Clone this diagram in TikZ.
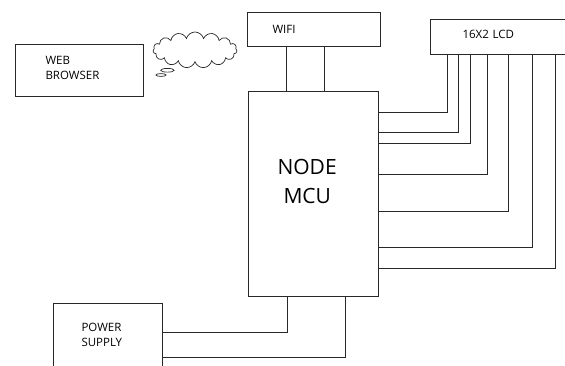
\documentclass[tikz,border=0pt]{standalone}
\usepackage{fontspec}
\setmainfont{Open Sans}
\usepackage{tikz}
\usetikzlibrary{shapes.callouts,shapes.symbols}
\definecolor{wireblack}{RGB}{40,40,40}
\tikzset{
  blockbox/.style={draw=wireblack, line width=1pt, anchor=north west, inner sep=0pt, font=\fontsize{11.5}{15}\selectfont, align=left},
  wire/.style={draw=wireblack, line width=1pt},
  thought/.style={cloud callout, draw=wireblack, line width=0.7pt, cloud puffs=15, aspect=2.4, inner sep=0pt, minimum width=84pt, minimum height=36pt, callout pointer segments=2, callout pointer start size=.2 of callout, callout pointer end size=.12 of callout},
}
\begin{document}
\begin{tikzpicture}[x=1pt,y=-1pt]
  \path[use as bounding box, clip] (0,0) rectangle (565,366);
  % blocks
  \node[blockbox, minimum width=128pt, minimum height=52pt, text width=68pt, text depth=20pt] (web) at (15,44) {WEB\\BROWSER};
  \node[blockbox, minimum width=133pt, minimum height=34pt, text width=83pt, text depth=1pt] (wifi) at (247,12) {WIFI};
  \node[blockbox, minimum width=140pt, minimum height=35pt, text width=76pt, text depth=5pt] (lcd) at (430,19) {16X2 LCD};
  \node[blockbox, minimum width=130pt, minimum height=205pt, text width=72pt, text depth=54pt, font=\fontsize{21}{29}\selectfont] (mcu) at (248,91) {NODE\\\hspace*{6pt}MCU};
  \node[blockbox, minimum width=109pt, minimum height=72pt, text width=53pt, text depth=25pt] (power) at (53,303) {POWER\\SUPPLY};
  \node[thought, callout absolute pointer={(161,75)}] (cloud) at (195,50) {};
  % wifi lines
  \foreach \px in {286,324} {
    \draw[wire] (wifi.south -| \px,0) -- (mcu.north -| \px,0);
  }
  % lcd lines
  \foreach \px/\py in {447/113,458/133,470/144,487/175,508/212,532/248,555/268} {
    \draw[wire] (lcd.south -| \px,0) |- (mcu.east |- 0,\py);
  }
  % power lines
  \draw[wire] (mcu.south -| 287,0) |- (power.east |- 0,332);
  \draw[wire] (mcu.south -| 345,0) |- (power.east |- 0,357);
\end{tikzpicture}
\end{document}
